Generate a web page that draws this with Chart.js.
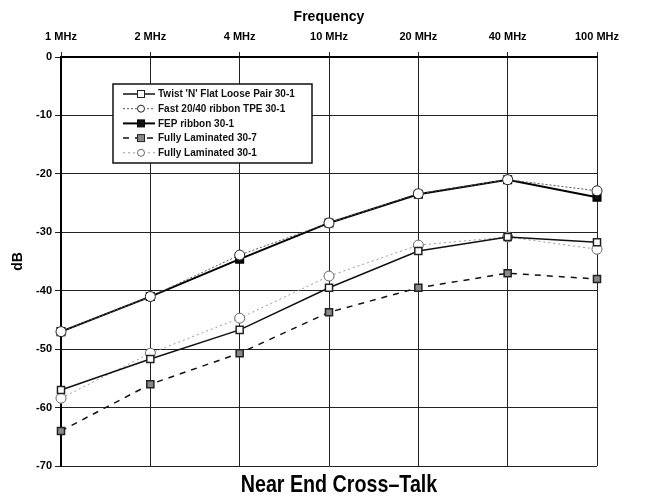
<!DOCTYPE html>
<html>
<head>
<meta charset="utf-8">
<script src="https://cdn.jsdelivr.net/npm/chart.js@4"></script>
<style>
  html, body { margin: 0; padding: 0; background: #fff; }
  #wrap { width: 648px; height: 497px; }
</style>
</head>
<body>
<div id="wrap"><canvas id="chart"></canvas></div>
<script>
const frequencies = ['1 MHz', '2 MHz', '4 MHz', '10 MHz', '20 MHz', '40 MHz', '100 MHz'];
const yTicks = [0, -10, -20, -30, -40, -50, -60, -70];

const twistFlat = [-57, -51.7, -46.7, -39.5, -33.2, -30.8, -31.7];
const fastRibbon = [-47, -41, -33.9, -28.4, -23.4, -21, -22.9];
const fepRibbon = [-47, -41, -34.6, -28.4, -23.5, -21, -24];
const laminated307 = [-64, -56, -50.7, -43.7, -39.5, -37, -38];
const laminated301 = [-58.4, -50.7, -44.7, -37.5, -32.2, -30.8, -32.9];

const chartTitle = 'Near End Cross\u2013Talk';

const FONT = '"Liberation Sans", Arial, sans-serif';

// boxed legend inside the plot plus the condensed caption under it
const boxLegend = {
  id: 'boxLegend',
  afterDraw(chart) {
    const ctx = chart.ctx;
    const x0 = 113, y0 = 84, w = 199, h = 79;
    ctx.save();
    ctx.fillStyle = '#fff';
    ctx.fillRect(x0, y0, w, h);
    ctx.strokeStyle = '#111';
    ctx.lineWidth = 1.5;
    ctx.strokeRect(x0, y0, w, h);
    chart.data.datasets.forEach((ds, i) => {
      const y = y0 + 10 + i * 14.7;
      ctx.strokeStyle = ds.borderColor;
      ctx.lineWidth = ds.borderWidth;
      ctx.setLineDash(ds.borderDash || []);
      ctx.beginPath();
      ctx.moveTo(x0 + 10, y);
      ctx.lineTo(x0 + 42, y);
      ctx.stroke();
      ctx.setLineDash([]);
      ctx.fillStyle = ds.pointBackgroundColor;
      ctx.strokeStyle = ds.pointBorderColor;
      ctx.lineWidth = 1;
      if (ds.pointStyle === 'circle') {
        ctx.beginPath();
        ctx.arc(x0 + 28, y, 3.5, 0, Math.PI * 2);
        ctx.fill();
        ctx.stroke();
      } else {
        ctx.fillRect(x0 + 24.5, y - 3.5, 7, 7);
        ctx.strokeRect(x0 + 24.5, y - 3.5, 7, 7);
      }
      ctx.fillStyle = '#111';
      ctx.font = 'bold 10px ' + FONT;
      ctx.textBaseline = 'middle';
      ctx.fillText(ds.label, x0 + 45, y + 0.5);
    });

    // caption: bold, squeezed sideways to look like a condensed face
    ctx.translate(339, 492);
    ctx.scale(0.82, 1);
    ctx.fillStyle = '#000';
    ctx.font = 'bold 24px ' + FONT;
    ctx.textAlign = 'center';
    ctx.textBaseline = 'alphabetic';
    ctx.fillText(chartTitle, 0, 0);
    ctx.restore();
  }
};

const ctx = document.getElementById('chart').getContext('2d');
const chart = new Chart(ctx, {
  type: 'line',
  plugins: [boxLegend],
  data: {
    labels: frequencies,
    datasets: [
      {
        label: "Twist 'N' Flat Loose Pair 30-1",
        data: twistFlat,
        borderColor: '#111', borderWidth: 1.5,
        pointStyle: 'rect', pointRadius: 5,
        pointBackgroundColor: '#fff', pointBorderColor: '#222'
      },
      {
        label: 'Fast 20/40 ribbon TPE 30-1',
        data: fastRibbon,
        borderColor: '#555', borderWidth: 1, borderDash: [2, 2],
        pointStyle: 'circle', pointRadius: 5,
        pointBackgroundColor: '#fff', pointBorderColor: '#222'
      },
      {
        label: 'FEP ribbon 30-1',
        data: fepRibbon,
        borderColor: '#000', borderWidth: 2,
        pointStyle: 'rect', pointRadius: 5,
        pointBackgroundColor: '#111', pointBorderColor: '#000'
      },
      {
        label: 'Fully Laminated 30-7',
        data: laminated307,
        borderColor: '#111', borderWidth: 1.5, borderDash: [6, 6],
        pointStyle: 'rect', pointRadius: 5,
        pointBackgroundColor: '#888', pointBorderColor: '#222'
      },
      {
        label: 'Fully Laminated 30-1',
        data: laminated301,
        borderColor: '#999', borderWidth: 1, borderDash: [2, 3],
        pointStyle: 'circle', pointRadius: 5,
        pointBackgroundColor: '#fff', pointBorderColor: '#666'
      }
    ]
  },
  options: {
    responsive: true,
    maintainAspectRatio: false,
    animation: false,
    layout: { padding: { left: 0, right: 51, top: 4, bottom: 31 } },
    plugins: {
      legend: { display: false },
      tooltip: { enabled: false },
      title: { display: false }
    },
    scales: {
      x: {
        position: 'top',
        offset: false,
        grid: { color: '#222', lineWidth: 1, tickLength: 5 },
        border: { color: '#000', width: 2 },
        ticks: {
          color: '#000',
          font: { family: FONT, size: 11, weight: 'bold' },
          padding: 8,
          maxRotation: 0
        },
        title: {
          display: true,
          text: 'Frequency',
          color: '#000',
          font: { family: FONT, size: 14, weight: 'bold' },
          padding: { top: 5, bottom: 0 }
        },
        afterFit(scale) { scale.height = 53; }
      },
      y: {
        min: -70, max: 0,
        afterBuildTicks(scale) { scale.ticks = yTicks.map(v => ({ value: v })); },
        grid: { color: '#222', lineWidth: 1, tickLength: 6 },
        border: { color: '#000', width: 2 },
        ticks: {
          color: '#000',
          font: { family: FONT, size: 11, weight: 'bold' },
          padding: 3
        },
        title: {
          display: true,
          text: 'dB',
          color: '#000',
          font: { family: FONT, size: 14, weight: 'bold' },
          padding: { top: 10, bottom: 4 }
        },
        afterFit(scale) { scale.width = 61; }
      }
    }
  }
});
</script>
</body>
</html>
